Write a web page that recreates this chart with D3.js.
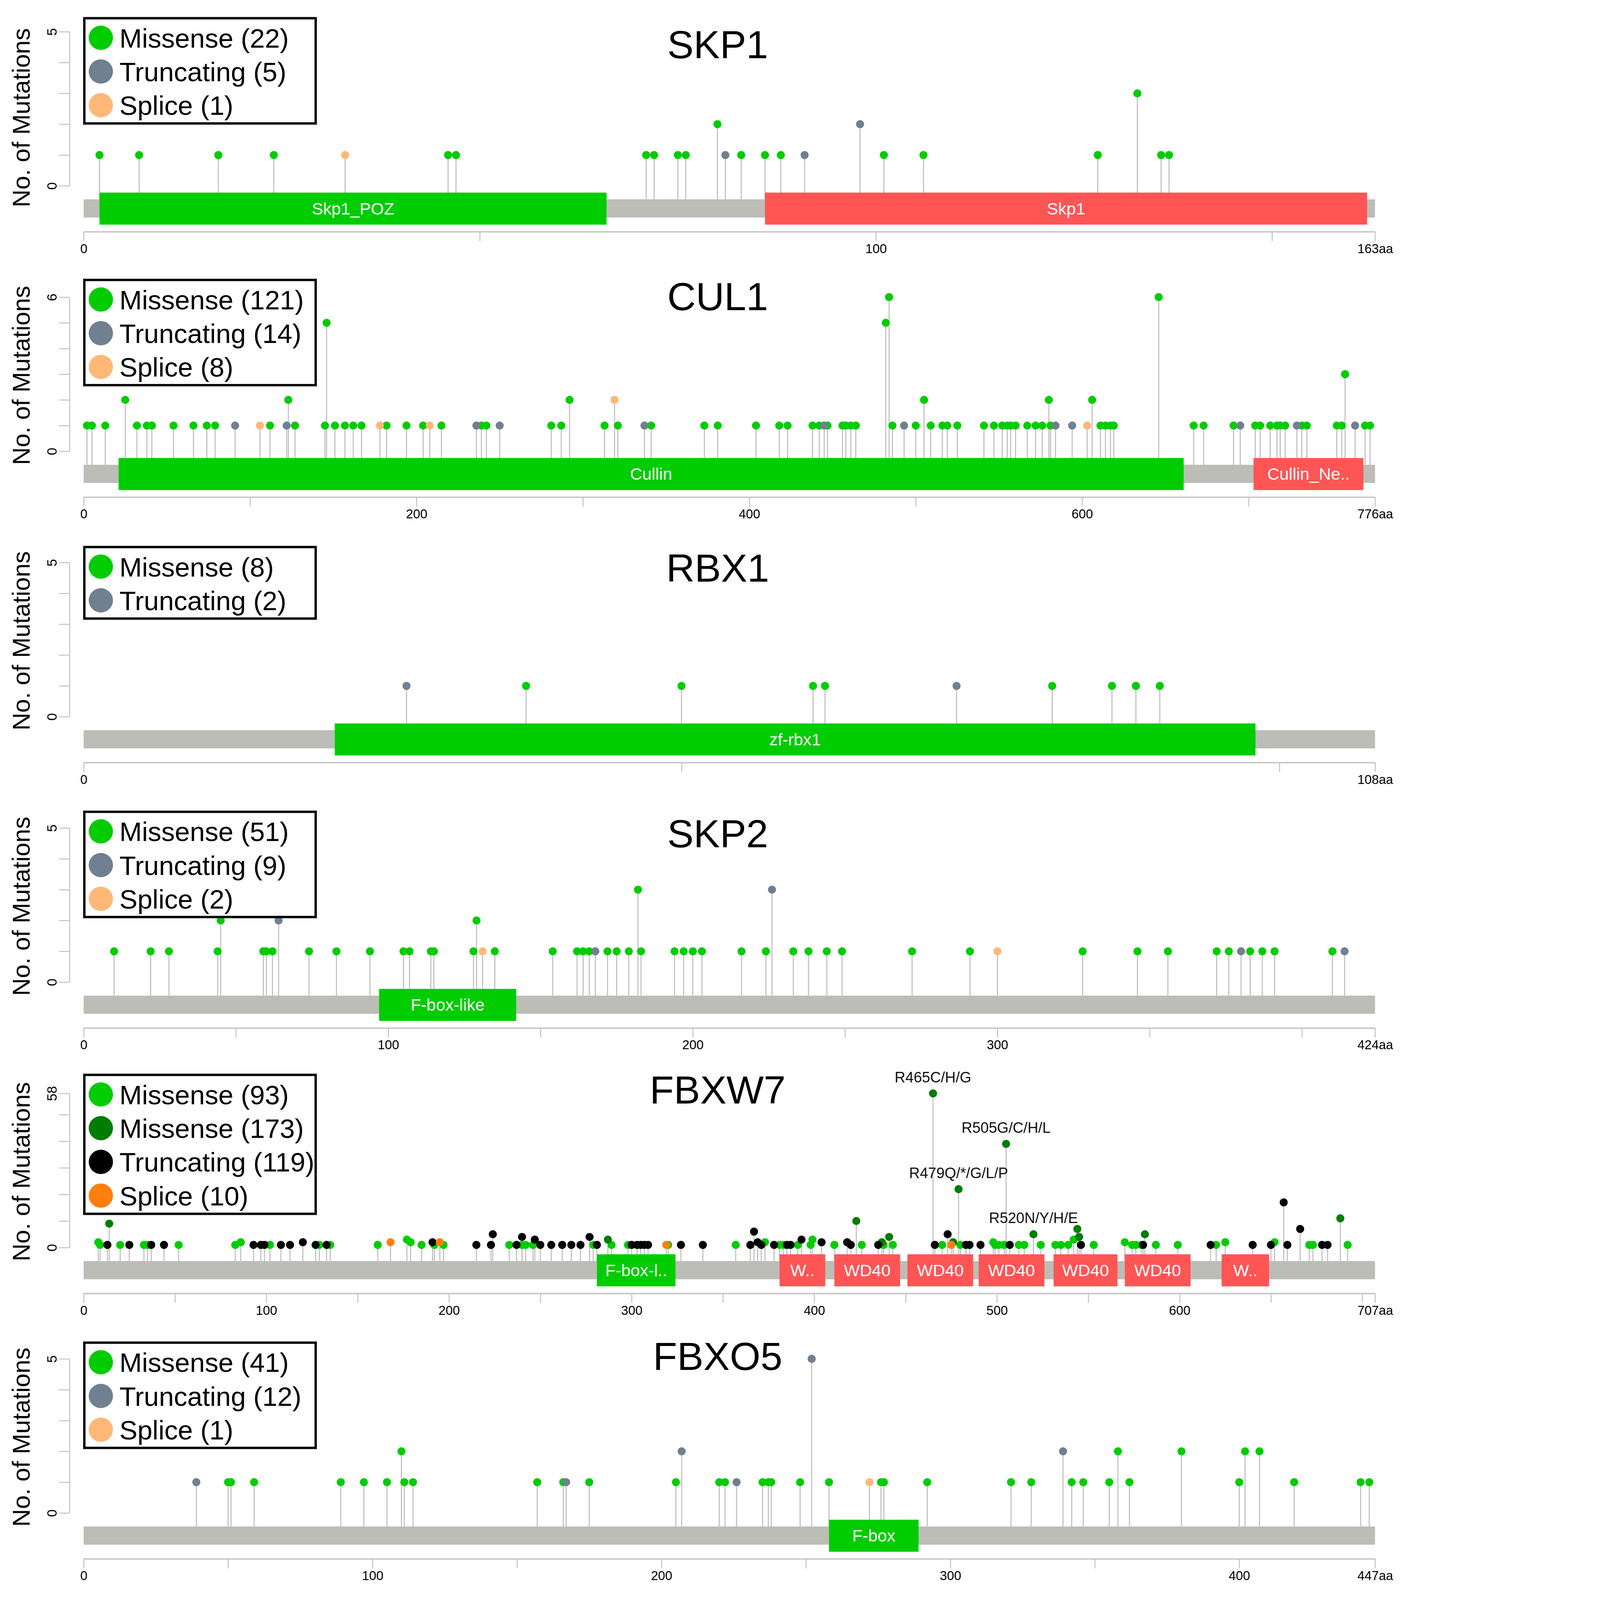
<!DOCTYPE html>
<html><head><meta charset="utf-8">
<script src="https://cdn.jsdelivr.net/npm/d3@7"></script>
<style>
html,body{margin:0;padding:0;background:#fff;overflow:hidden;width:100%;height:100%}
svg{display:block;width:100vw;height:100vh}
text{font-family:"Liberation Sans",Arial,Helvetica,sans-serif}
</style>
</head><body>
<svg id="chart" viewBox="0 0 4174 4744" preserveAspectRatio="xMinYMin meet"></svg>
<script>
// ---------------- DATA ----------------
const genes = ["SKP1", "CUL1", "RBX1", "SKP2", "FBXW7", "FBXO5"];
const proteinLengths = [163, 776, 108, 424, 707, 447];
const yMaxValues = [5, 6, 5, 5, 58, 5];

// x-axis tick labels (labelled) and unlabelled ticks
const majorTicks = [[0, 100], [0, 200, 400, 600], [0], [0, 100, 200, 300], [0, 100, 200, 300, 400, 500, 600], [0, 100, 200, 300, 400]];
const minorTicks = [[50, 150], [100, 300, 500, 700], [50, 100], [50, 150, 250, 350, 400], [50, 150, 250, 350, 450, 550, 650, 700], [50, 150, 250, 350]];

// legend labels
const SKP1_legend = ["Missense (22)", "Truncating (5)", "Splice (1)"];
const CUL1_legend = ["Missense (121)", "Truncating (14)", "Splice (8)"];
const RBX1_legend = ["Missense (8)", "Truncating (2)"];
const SKP2_legend = ["Missense (51)", "Truncating (9)", "Splice (2)"];
const FBXW7_legend = ["Missense (93)", "Missense (173)", "Truncating (119)", "Splice (10)"];
const FBXO5_legend = ["Missense (41)", "Truncating (12)", "Splice (1)"];

// domains: [label, start, end, class]
const SKP1_domains = [["Skp1_POZ", 2, 66, 0], ["Skp1", 86, 162, 1]];
const CUL1_domains = [["Cullin", 21, 661, 0], ["Cullin_Ne..", 703, 769, 1]];
const RBX1_domains = [["zf-rbx1", 21, 98, 0]];
const SKP2_domains = [["F-box-like", 97, 142, 0]];
const FBXW7_domains = [["F-box-l..", 281, 324, 0], ["W..", 381, 406, 1], ["WD40", 411, 447, 1], ["WD40", 451, 487, 1], ["WD40", 490, 526, 1], ["WD40", 531, 566, 1], ["WD40", 570, 606, 1], ["W..", 623, 649, 1]];
const FBXO5_domains = [["F-box", 258, 289, 0]];

// mutations: [position, count]
const SKP1_missense = [[2,1],[7,1],[17,1],[24,1],[46,1],[47,1],[71,1],[72,1],[75,1],[76,1],[80,2],[83,1],[86,1],[88,1],[101,1],[106,1],[128,1],[133,3],[136,1],[137,1]];
const SKP1_truncating = [[81,1],[91,1],[98,2]];
const SKP1_splice = [[33,1]];

const CUL1_missense = [[2,1],[5,1],[13,1],[25,2],[32,1],[38,1],[41,1],[54,1],[66,1],[74,1],[79,1],[112,1],[123,2],[127,1],[145,1],[146,5],[151,1],[157,1],[162,1],[167,1],[182,1],[194,1],[204,1],[215,1],[239,1],[242,1],[281,1],[287,1],[292,2],[313,1],[321,1],[341,1],[373,1],[381,1],[404,1],[418,1],[423,1],[438,1],[442,1],[447,1],[456,1],[458,1],[461,1],[464,1],[482,5],[484,6],[486,1],[500,1],[505,2],[509,1],[516,1],[519,1],[525,1],[541,1],[547,1],[552,1],[555,1],[557,1],[560,1],[567,1],[572,1],[576,1],[580,2],[581,1],[606,2],[611,1],[614,1],[617,1],[619,1],[646,6],[667,1],[673,1],[691,1],[704,1],[707,1],[713,1],[717,1],[719,1],[722,1],[732,1],[735,1],[753,1],[756,1],[758,3],[770,1],[773,1]];
const CUL1_truncating = [[91,1],[122,1],[236,1],[250,1],[337,1],[445,1],[493,1],[584,1],[594,1],[695,1],[729,1],[764,1]];
const CUL1_splice = [[106,1],[178,1],[208,1],[319,2],[603,1]];

const RBX1_missense = [[37,1],[50,1],[61,1],[62,1],[81,1],[86,1],[88,1],[90,1]];
const RBX1_truncating = [[27,1],[73,1]];

const SKP2_missense = [[10,1],[22,1],[28,1],[44,1],[45,2],[59,1],[60,1],[62,1],[74,1],[83,1],[94,1],[105,1],[107,1],[114,1],[115,1],[128,1],[129,2],[135,1],[154,1],[162,1],[164,1],[166,1],[172,1],[175,1],[179,1],[182,3],[183,1],[194,1],[197,1],[200,1],[203,1],[216,1],[224,1],[233,1],[238,1],[244,1],[249,1],[272,1],[291,1],[328,1],[346,1],[356,1],[372,1],[376,1],[383,1],[387,1],[391,1],[410,1]];
const SKP2_truncating = [[64,2],[168,1],[226,3],[380,1],[414,1]];
const SKP2_splice = [[131,1],[300,1]];

const FBXW7_missense = [[8,2],[9,1],[20,1],[33,1],[35,1],[52,1],[83,1],[86,2],[102,1],[129,1],[135,1],[161,1],[177,3],[179,2],[185,1],[192,1],[197,1],[233,1],[240,1],[242,1],[246,1],[279,1],[289,1],[298,1],[320,1],[357,1],[373,2],[381,1],[383,1],[391,1],[398,1],[399,3],[411,1],[426,1],[438,1],[443,1],[470,1],[480,1],[498,2],[499,1],[501,1],[504,1],[512,1],[515,1],[524,1],[532,1],[535,1],[539,1],[542,3],[553,1],[570,2],[574,1],[576,1],[579,1],[587,1],[599,1],[620,1],[625,2],[652,2],[671,1],[673,1],[692,1]];
const FBXW7_missenseHotspot = [[14,9],[287,3],[423,10],[437,2],[441,4],[465,58],[476,2],[479,22],[505,39],[520,5],[544,7],[545,4],[581,5],[688,11]];
const FBXW7_truncating = [[13,1],[25,1],[37,1],[44,1],[93,1],[97,1],[99,1],[108,1],[113,1],[120,2],[127,1],[133,1],[191,2],[215,1],[223,1],[224,5],[237,1],[240,4],[247,3],[250,1],[256,1],[262,1],[267,1],[272,1],[277,4],[281,1],[300,1],[303,1],[305,1],[307,1],[309,1],[327,1],[339,1],[365,1],[367,6],[369,2],[371,1],[378,1],[385,1],[387,1],[393,3],[404,2],[418,2],[420,1],[435,1],[466,1],[473,5],[483,1],[485,1],[491,1],[507,1],[546,1],[580,1],[617,1],[640,1],[650,1],[657,17],[659,1],[666,7],[678,1],[681,1]];
const FBXW7_splice = [[168,2],[195,2],[319,1],[475,1]];
const FBXW7_hotspotLabels = [[465, "R465C/H/G"], [505, "R505G/C/H/L"], [479, "R479Q/*/G/L/P"], [520, "R520N/Y/H/E"]];

const FBXO5_missense = [[50,1],[51,1],[59,1],[89,1],[97,1],[105,1],[110,2],[111,1],[114,1],[157,1],[166,1],[175,1],[205,1],[220,1],[222,1],[235,1],[237,1],[238,1],[248,1],[258,1],[276,1],[277,1],[292,1],[321,1],[328,1],[342,1],[346,1],[355,1],[358,2],[362,1],[380,2],[400,1],[402,2],[407,2],[419,1],[442,1],[445,1]];
const FBXO5_truncating = [[39,1],[167,1],[207,2],[226,1],[252,5],[339,2]];
const FBXO5_splice = [[272,1]];

// ---------------- STYLE / LAYOUT ----------------
const COLORS = {
  missense: "#00cc00", hotspot: "#007d00", truncating: "#708090", truncBlack: "#000000",
  splice: "#ffb878", spliceOrange: "#ff7f0e"
};
const domainColors = ["#00cc00", "#ff5555"];
// per-panel vertical nudges (layout only)
const titleShift = [0, -39, -21, -21, -48, -45];
const legendShift = [-40, -51, -46, -48, -55, -48];

// series per panel: [data, colorKey]
const seriesByGene = [
  [[SKP1_missense, "missense"], [SKP1_truncating, "truncating"], [SKP1_splice, "splice"]],
  [[CUL1_missense, "missense"], [CUL1_truncating, "truncating"], [CUL1_splice, "splice"]],
  [[RBX1_missense, "missense"], [RBX1_truncating, "truncating"]],
  [[SKP2_missense, "missense"], [SKP2_truncating, "truncating"], [SKP2_splice, "splice"]],
  [[FBXW7_missense, "missense"], [FBXW7_missenseHotspot, "hotspot"], [FBXW7_truncating, "truncBlack"], [FBXW7_splice, "spliceOrange"]],
  [[FBXO5_missense, "missense"], [FBXO5_truncating, "truncating"], [FBXO5_splice, "splice"]]
];
const legendsByGene = [SKP1_legend, CUL1_legend, RBX1_legend, SKP2_legend, FBXW7_legend, FBXO5_legend];
const domainsByGene = [SKP1_domains, CUL1_domains, RBX1_domains, SKP2_domains, FBXW7_domains, FBXO5_domains];

// ---------------- DRAW ----------------
const svg = d3.select("#chart");
const X0 = 248, X1 = 4077;
const PANEL_TOP = 94, PANEL_STEP = 787;
const AXIS_GRAY = "#c4c4c4", STEM_GRAY = "#bcbcbc", BAR_GRAY = "#bcbdb6";
const FONT = "Liberation Sans, Arial, sans-serif";

svg.append("rect").attr("width", 4174).attr("height", 4744).attr("fill", "#fff");

genes.forEach((gene, i) => {
  const P = PANEL_TOP + i * PANEL_STEP;
  const len = proteinLengths[i];
  const ymax = yMaxValues[i];
  const g = svg.append("g");

  const x = d3.scaleLinear().domain([0, len]).range([X0, X1]);
  const y = d3.scaleLinear().domain([0, ymax]).range([P + 457, P]);

  const barTop = P + 497, barH = 54;
  const domTop = P + 477, domH = 95;

  // y axis
  const yTicks = ymax <= 10 ? d3.range(0, ymax + 1) : y.ticks(5).concat([ymax]);
  const yAxis = d3.axisLeft(y).tickValues(yTicks).tickSize(31).tickSizeOuter(0)
    .tickFormat(d => (d === 0 || d === ymax) ? String(d) : "");
  const ya = g.append("g").attr("transform", `translate(206,0)`).call(yAxis);
  ya.select(".domain").attr("stroke", AXIS_GRAY).attr("stroke-width", 3);
  ya.selectAll(".tick line").attr("stroke", AXIS_GRAY).attr("stroke-width", 3);
  ya.selectAll(".tick text")
    .attr("x", null).attr("dy", null)
    .attr("transform", "translate(-38,0) rotate(-90)")
    .attr("text-anchor", "middle")
    .attr("font-size", 40).attr("fill", "#000")
    .style("font-family", FONT);

  // y label
  const labelCenter = P + (i === 0 ? 255 : 232);
  g.append("text")
    .attr("transform", `translate(88,${labelCenter}) rotate(-90)`)
    .attr("text-anchor", "middle")
    .attr("font-size", 73)
    .attr("fill", "#000")
    .text("No. of Mutations");

  // x axis
  const allTicks = majorTicks[i].concat(minorTicks[i], [len]).sort((a, b) => a - b);
  const xAxis = d3.axisBottom(x).tickValues(allTicks).tickSize(28).tickSizeOuter(0).tickPadding(8)
    .tickFormat(d => d === len ? d + "aa" : (majorTicks[i].includes(d) ? String(d) : ""));
  const xa = g.append("g").attr("transform", `translate(0,${P + 593})`).call(xAxis);
  xa.select(".domain").attr("stroke", AXIS_GRAY).attr("stroke-width", 4);
  xa.selectAll(".tick line").attr("stroke", AXIS_GRAY).attr("stroke-width", 3);
  xa.selectAll(".tick text").attr("font-size", 38).attr("fill", "#000")
    .style("font-family", FONT);

  // stems
  const series = seriesByGene[i];
  series.forEach(([data, key]) => {
    g.append("g").selectAll("line").data(data).join("line")
      .attr("x1", d => x(d[0])).attr("x2", d => x(d[0]))
      .attr("y1", barTop).attr("y2", d => y(d[1]))
      .attr("stroke", STEM_GRAY).attr("stroke-width", 3);
  });

  // protein bar
  g.append("rect").attr("x", x(0)).attr("y", barTop).attr("width", x(len) - x(0)).attr("height", barH)
    .attr("fill", BAR_GRAY);

  // domains
  const doms = g.append("g").selectAll("g").data(domainsByGene[i]).join("g");
  doms.append("rect")
    .attr("x", d => x(d[1])).attr("y", domTop)
    .attr("width", d => x(d[2]) - x(d[1])).attr("height", domH)
    .attr("fill", d => domainColors[d[3]]);
  doms.append("text")
    .attr("x", d => (x(d[1]) + x(d[2])) / 2).attr("y", domTop + domH / 2 + 17)
    .attr("text-anchor", "middle").attr("font-size", 50).attr("fill", "#fff")
    .text(d => d[0]);

  // heads
  series.forEach(([data, key]) => {
    g.append("g").selectAll("circle").data(data).join("circle")
      .attr("cx", d => x(d[0])).attr("cy", d => y(d[1])).attr("r", 12)
      .attr("fill", COLORS[key]);
  });

  // hotspot labels (FBXW7)
  if (gene === "FBXW7") {
    g.append("g").selectAll("text").data(FBXW7_hotspotLabels).join("text")
      .attr("x", d => x(d[0]))
      .attr("y", d => y(FBXW7_missenseHotspot.find(m => m[0] === d[0])[1]) - 33)
      .attr("text-anchor", "middle").attr("font-size", 44).attr("fill", "#111")
      .text(d => d[1]);
  }

  // title
  g.append("text").attr("x", 2128).attr("y", P + 78 + titleShift[i]).attr("text-anchor", "middle")
    .attr("font-size", 117).attr("fill", "#000").text(gene);

  // legend
  const labels = legendsByGene[i];
  const n = labels.length;
  const lTop = P + legendShift[i];
  const lg = g.append("g");
  lg.append("rect").attr("x", 250).attr("y", lTop).attr("width", 686).attr("height", n * 100 + 12)
    .attr("fill", "#fff").attr("stroke", "#000").attr("stroke-width", 7);
  labels.forEach((lab, k) => {
    const cy = lTop + 58 + k * 100;
    lg.append("circle").attr("cx", 299).attr("cy", cy).attr("r", 36).attr("fill", COLORS[series[k][1]]);
    lg.append("text").attr("x", 354).attr("y", cy + 29).attr("font-size", 80).attr("fill", "#000").text(lab);
  });
});
</script>
</body></html>
